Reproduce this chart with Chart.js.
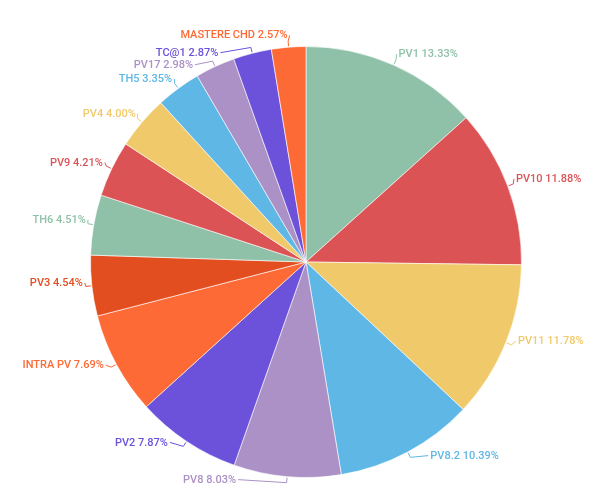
<!DOCTYPE html>
<html><head><meta charset="utf-8">
<script src="https://cdn.jsdelivr.net/npm/chart.js@4/dist/chart.umd.min.js"></script>
<style>html,body{margin:0;padding:0;background:#fff;}#wrap{width:612px;height:497px;}</style>
</head><body><div id="wrap"><canvas id="c" width="612" height="497"></canvas></div>
<script>
const categories = ['PV1','PV10','PV11','PV8.2','PV8','PV2','INTRA PV','PV3','TH6','PV9','PV4','TH5','PV17','TC@1','MASTERE CHD'];
const values = [13.33,11.88,11.78,10.39,8.03,7.87,7.69,4.54,4.51,4.21,4.00,3.35,2.98,2.87,2.57];
const palette = ['#8fc1a8','#dc5356','#f0ca6a','#5fb7e5','#ab91c6','#6c52da','#fe6a35','#e34e21'];

// label layout nudges (dx, dy) applied after radial placement, to avoid overlaps
const labelNudge = [[0,0],[-3,-3],[1,-6],[17,-7],[-50,-9],[-12,-9],[-2,-5],[3,-4],[4,-3],[2,-1],[3,-1],[1,0],[-17,9],[-31,11],[0,0]];

const colors = categories.map((_, i) => palette[i % palette.length]);

const labelPlugin = {
  id: 'outLabels',
  afterDatasetsDraw(chart) {
    const ctx = chart.ctx;
    const meta = chart.getDatasetMeta(0);
    const total = values.reduce((a, b) => a + b, 0);
    ctx.save();
    ctx.font = '500 11px Roboto';
    ctx.textBaseline = 'middle';
    meta.data.forEach((arc, i) => {
      const p = arc.getProps(['x','y','startAngle','endAngle','outerRadius'], true);
      const mid = (p.startAngle + p.endAngle) / 2;
      const R = p.outerRadius;
      const cx = Math.cos(mid), sy = Math.sin(mid);
      const ex = p.x + cx * (R + 1), ey = p.y + sy * (R + 1);
      const bx = p.x + cx * (R + 6), by = p.y + sy * (R + 6);
      const right = cx >= 0;
      const lx = p.x + cx * (R + 12) + labelNudge[i][0];
      const ly = p.y + sy * (R + 12) + labelNudge[i][1];
      const txt = categories[i] + ' ' + (values[i] / total * 100).toFixed(2) + '%';
      ctx.strokeStyle = colors[i];
      ctx.lineWidth = 1;
      ctx.beginPath();
      ctx.moveTo(ex, ey);
      ctx.lineTo(bx, by);
      const gx = right ? lx - 2 : lx + 2;
      ctx.lineTo(gx, ly);
      ctx.stroke();
      ctx.fillStyle = colors[i];
      ctx.textAlign = right ? 'left' : 'right';
      ctx.fillText(txt, lx, ly + 0.5);
    });
    ctx.restore();
  }
};

new Chart(document.getElementById('c'), {
  type: 'pie',
  data: {
    labels: categories,
    datasets: [{
      data: values,
      backgroundColor: colors,
      borderColor: 'rgba(255,255,255,0.6)',
      borderWidth: 1
    }]
  },
  options: {
    responsive: false,
    animation: false,
    layout: { padding: { top: 46, bottom: 19, left: 0, right: 0 } },
    plugins: { legend: { display: false }, tooltip: { enabled: false } }
  },
  plugins: [labelPlugin]
});
</script>
</body></html>
